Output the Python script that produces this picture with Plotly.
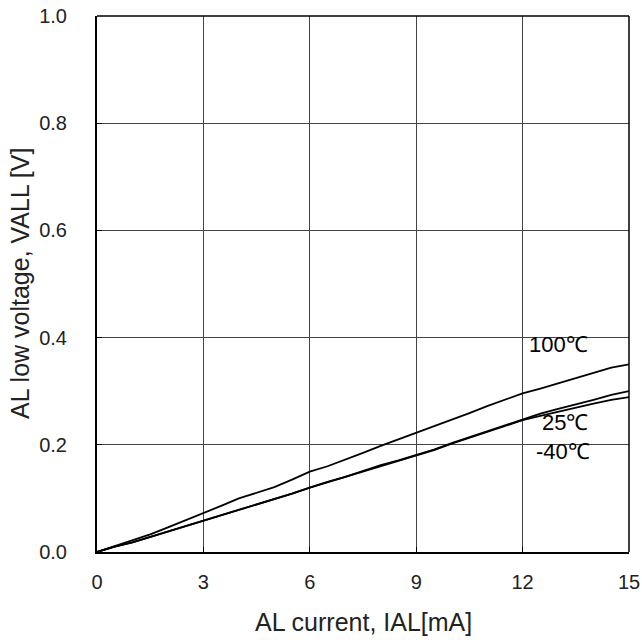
import plotly.graph_objects as go

current = [0, 0.5, 1, 1.5, 2, 2.5, 3, 3.5, 4, 4.5, 5, 5.5, 6, 6.5, 7, 7.5, 8, 8.5, 9, 9.5, 10, 10.5, 11, 11.5, 12, 12.5, 13, 13.5, 14, 14.5, 15]
v_100 = [0, 0.011, 0.021, 0.033, 0.046, 0.059, 0.073, 0.086, 0.100, 0.110, 0.121, 0.135, 0.150, 0.160, 0.172, 0.185, 0.198, 0.210, 0.222, 0.235, 0.247, 0.259, 0.272, 0.284, 0.296, 0.305, 0.315, 0.324, 0.334, 0.344, 0.350]
v_25 = [0, 0.010, 0.018, 0.028, 0.038, 0.048, 0.058, 0.068, 0.079, 0.088, 0.099, 0.109, 0.120, 0.131, 0.140, 0.151, 0.162, 0.171, 0.181, 0.191, 0.203, 0.214, 0.225, 0.237, 0.248, 0.258, 0.267, 0.275, 0.284, 0.293, 0.300]
v_m40 = [0, 0.010, 0.018, 0.028, 0.038, 0.048, 0.058, 0.068, 0.079, 0.088, 0.099, 0.109, 0.120, 0.130, 0.140, 0.150, 0.161, 0.171, 0.180, 0.190, 0.202, 0.213, 0.224, 0.235, 0.246, 0.254, 0.262, 0.270, 0.277, 0.284, 0.289]
labels = ["100℃", "25℃", "-40℃"]
label_x = [13.02, 13.19, 13.14]
label_y = [0.387, 0.241, 0.187]
x_ticks = [0, 3, 6, 9, 12, 15]
y_ticks = [0.0, 0.2, 0.4, 0.6, 0.8, 1.0]
x_title = "AL current, IAL[mA]"
y_title = "AL low voltage, VALL [V]"

FONT = "Liberation Sans, Arial"

fig = go.Figure()
for ys in (v_100, v_25, v_m40):
    fig.add_trace(go.Scatter(x=current, y=ys, mode="lines", hoverinfo="skip",
                             line=dict(color="black", width=1.8), showlegend=False))

for t, lx, ly in zip(labels, label_x, label_y):
    fig.add_annotation(x=lx, y=ly, text=t, showarrow=False,
                       xanchor="center", yanchor="middle",
                       font=dict(family=FONT, size=22, color="black"))

fig.add_annotation(xref="paper", yref="paper", x=0.5, y=-0.1306, text=x_title,
                   xanchor="center", yanchor="middle",
                   showarrow=False, font=dict(family=FONT, size=25, color="#222"))
fig.add_annotation(xref="paper", yref="paper", x=-0.1447, y=0.5, text=y_title,
                   xanchor="center", yanchor="middle",
                   showarrow=False, textangle=-90, font=dict(family=FONT, size=25, color="#222"))

fig.update_xaxes(range=[0, 15], tickvals=x_ticks, ticktext=[str(v) for v in x_ticks],
                 showgrid=True, gridcolor="#444", gridwidth=1,
                 showline=True, linecolor="black", linewidth=2,
                 ticks="inside", ticklen=5, tickcolor="black",
                 ticklabelstandoff=11, zeroline=False, automargin=False,
                 ticklabeloverflow="allow",
                 tickfont=dict(family=FONT, size=20, color="#222"))
fig.update_yaxes(range=[0, 1.0], tickvals=y_ticks, ticktext=[f"{v:.1f}" for v in y_ticks],
                 showgrid=True, gridcolor="#444", gridwidth=1,
                 showline=True, linecolor="black", linewidth=2,
                 ticks="inside", ticklen=5, tickcolor="black",
                 ticklabelstandoff=24, zeroline=False, automargin=False,
                 ticklabeloverflow="allow",
                 tickfont=dict(family=FONT, size=20, color="#222"))

fig.add_shape(type="line", xref="paper", yref="paper", x0=0, x1=1, y0=1, y1=1,
              line=dict(color="black", width=1.5))
fig.add_shape(type="line", xref="paper", yref="paper", x0=1, x1=1, y0=0, y1=1,
              line=dict(color="black", width=1.5))

fig.update_layout(width=642, height=640, plot_bgcolor="white", paper_bgcolor="white",
                  margin=dict(l=97, r=13, t=16, b=88), hovermode=False)
fig.write_html("out.html", config={"displayModeBar": False},
               post_script="document.body.style.margin='0';document.body.style.overflow='hidden';")
